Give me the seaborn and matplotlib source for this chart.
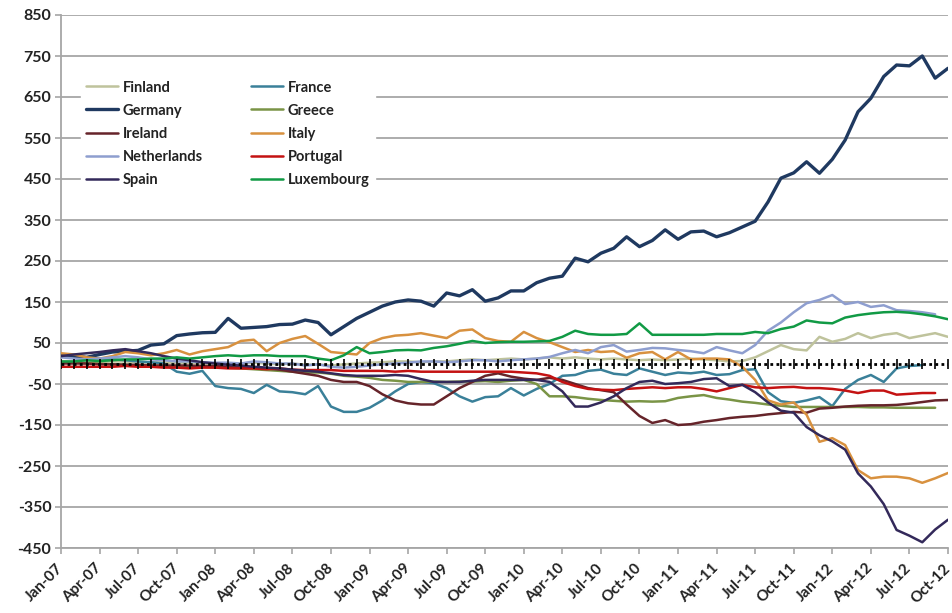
import numpy as np
import pandas as pd
import matplotlib
matplotlib.use("Agg")
import matplotlib.pyplot as plt
import seaborn as sns

nan = np.nan

tick_labels = ["Jan-07", "Apr-07", "Jul-07", "Oct-07", "Jan-08", "Apr-08", "Jul-08", "Oct-08",
               "Jan-09", "Apr-09", "Jul-09", "Oct-09", "Jan-10", "Apr-10", "Jul-10", "Oct-10",
               "Jan-11", "Apr-11", "Jul-11", "Oct-11", "Jan-12", "Apr-12", "Jul-12", "Oct-12"]

countries = ["Finland", "France", "Germany", "Greece", "Ireland", "Italy",
             "Netherlands", "Portugal", "Spain", "Luxembourg"]

finland = [5, 5, 3, 5, 5, 5, 3, 2, 3, 0, 2, 0, 0, -2, 0, 2, 0, -2, 0, -3,
           -2, -5, -2, 0, 2, 3, 5, 5, 3, 5, 5, 8, 10, 8, 10, 12, 10, 12, 15, 12,
           15, 12, 10, 12, 10, 8, 10, 8, 10, 12, 10, 8, 5, 6, 15, 30, 45, 35, 32, 65,
           53, 60, 74, 62, 70, 74, 62, 68, 74, 65]
france = [22, 18, 15, 12, 10, 8, 5, 3, 0, -20, -25, -18, -55, -60, -62, -72, -52, -68, -70, -75,
          -55, -105, -118, -118, -108, -90, -68, -50, -45, -48, -60, -80, -93, -82, -80, -60, -78, -62, -50, -30,
          -28, -18, -15, -25, -28, -12, -20, -28, -22, -24, -20, -28, -26, -16, -14, -70, -92, -96, -90, -82,
          -104, -62, -40, -28, -45, -12, -6, -4, nan, nan]
germany = [20, 18, 15, 22, 28, 30, 32, 45, 48, 68, 72, 75, 76, 110, 86, 88, 90, 95, 96, 106,
           100, 70, 90, 110, 125, 140, 150, 155, 152, 140, 172, 165, 180, 152, 160, 177, 177, 197, 208, 213,
           257, 248, 269, 281, 309, 285, 300, 326, 303, 321, 323, 309, 319, 333, 347, 394, 452, 465, 492, 464,
           498, 545, 614, 647, 700, 728, 726, 750, 696, 720]
greece = [2, 2, 0, 0, -2, -3, -5, -5, -6, -7, -8, -8, -10, -10, -12, -14, -16, -18, -20, -22,
          -22, -25, -30, -32, -35, -40, -42, -45, -45, -44, -45, -44, -44, -43, -45, -42, -40, -50, -80, -80,
          -82, -86, -89, -91, -93, -92, -93, -92, -84, -80, -77, -84, -88, -93, -96, -100, -103, -106, -106, -106,
          -106, -106, -106, -107, -107, -108, -108, -108, -108, nan]
ireland = [0, 0, 0, -2, -2, -3, -3, -5, -5, -5, -5, -6, -6, -8, -8, -10, -12, -15, -20, -25,
           -30, -40, -45, -45, -55, -75, -90, -97, -100, -100, -80, -60, -45, -30, -24, -32, -37, -40, -35, -40,
           -50, -60, -65, -70, -100, -128, -145, -138, -150, -148, -142, -138, -133, -130, -128, -124, -121, -118, -120, -110,
           -108, -105, -103, -102, -102, -101, -98, -94, -90, -89]
italy = [25, 22, 15, 12, 18, 28, 25, 20, 25, 33, 22, 30, 35, 40, 55, 58, 30, 50, 60, 67,
         48, 28, 25, 22, 50, 62, 68, 70, 74, 68, 62, 80, 83, 62, 55, 53, 77, 62, 52, 40,
         28, 33, 28, 30, 14, 25, 28, 10, 28, 10, 12, 12, 10, -8, -40, -90, -100, -95, -125, -191,
         -182, -199, -260, -280, -276, -276, -280, -291, -280, -267]
netherlands = [15, 12, 10, 12, 15, 18, 15, 10, 8, 5, 5, 3, 2, 2, 0, 5, 3, 0, 0, -5,
               -2, -8, -10, -8, -5, -2, 0, 2, 5, 5, 3, 5, 8, 8, 5, 8, 10, 12, 16, 25,
               33, 25, 40, 45, 29, 33, 38, 37, 33, 30, 25, 40, 32, 25, 45, 80, 100, 125, 147, 155,
               167, 145, 150, 138, 142, 130, 128, 125, 120, nan]
portugal = [-8, -8, -8, -8, -8, -6, -8, -8, -10, -10, -12, -10, -10, -12, -12, -12, -14, -12, -15, -16,
            -16, -16, -18, -18, -18, -18, -20, -18, -20, -20, -20, -20, -20, -20, -20, -20, -22, -24, -30, -45,
            -55, -62, -64, -65, -62, -60, -58, -60, -58, -58, -62, -68, -60, -52, -58, -60, -58, -57, -60, -60,
            -62, -66, -72, -66, -66, -76, -74, -72, -72, nan]
spain = [18, 22, 25, 28, 32, 35, 30, 25, 18, 12, 8, 3, 0, -3, -5, -8, -10, -12, -15, -18,
         -20, -24, -28, -30, -30, -30, -28, -30, -38, -45, -45, -45, -42, -40, -40, -40, -40, -40, -45, -68,
         -105, -105, -95, -80, -60, -45, -42, -50, -48, -45, -38, -36, -55, -52, -70, -95, -115, -120, -155, -175,
         -190, -210, -268, -300, -343, -406, -420, -436, -405, -381]
luxembourg = [5, 5, 8, 6, 8, 10, 10, 12, 12, 15, 12, 15, 18, 20, 18, 20, 20, 18, 18, 18,
              12, 8, 20, 40, 25, 28, 32, 33, 32, 38, 42, 48, 55, 50, 52, 53, 53, 54, 55, 65,
              80, 72, 70, 70, 72, 98, 70, 70, 70, 70, 70, 72, 72, 72, 77, 74, 84, 90, 105, 100,
              98, 112, 118, 122, 125, 126, 124, 120, 115, 108]

colors = {
    "Finland": "#BFC39C",
    "France": "#3A8099",
    "Germany": "#1F3960",
    "Greece": "#7A9446",
    "Ireland": "#66242A",
    "Italy": "#D8913F",
    "Netherlands": "#8E9ECF",
    "Portugal": "#C41212",
    "Spain": "#33295A",
    "Luxembourg": "#119A45",
}
widths = {c: 1.8 for c in countries}
widths["Germany"] = 2.4

series = [finland, france, germany, greece, ireland, italy, netherlands, portugal, spain, luxembourg]
n_months = len(germany)
frames = []
for name, vals in zip(countries, series):
    frames.append(pd.DataFrame({"month": np.arange(n_months), "value": vals, "country": name}))
df = pd.concat(frames, ignore_index=True).dropna()

sns.set_style("white")
plt.rcParams["font.family"] = ["Lato", "DejaVu Sans"]

fig = plt.figure(figsize=(9.53, 6.13), dpi=100)
ax = fig.add_axes([61 / 953, 1 - 548 / 613, 887 / 953, 533 / 613])

yticks = np.arange(-450, 851, 100)
ax.set_yticks(yticks)
ax.set_ylim(-450, 850)
ax.set_xlim(0, n_months - 1)
ax.yaxis.grid(True, color="#A6A6A6", lw=1.3)
ax.set_axisbelow(True)

for c in countries:
    sub = df[df["country"] == c]
    sns.lineplot(data=sub, x="month", y="value", ax=ax, color=colors[c],
                 lw=widths[c], label=c, legend=False, zorder=3)

# zero axis with monthly tick marks
ax.axhline(0, color="black", lw=2.0, ls=(0, (1, 1.2)), zorder=4)
ax.plot(np.arange(n_months), np.zeros(n_months), ls="none", marker="|",
        ms=7, mew=1.2, color="black", zorder=4)

ax.set_xticks(np.arange(0, n_months, 3))
ax.set_xticklabels(tick_labels, rotation=45, ha="right", va="center", rotation_mode="anchor",
                   fontsize=11, fontweight="bold", color="#222222")
ax.set_yticklabels([str(v) for v in yticks], fontsize=11.5, fontweight="bold", color="#222222")
ax.tick_params(axis="y", length=4, color="#A6A6A6", width=1.2, pad=3, left=True)
ax.tick_params(axis="x", length=4, color="#A6A6A6", width=1.2, pad=9, bottom=True)
ax.set_xlabel("")
ax.set_ylabel("")

for s in ["top", "right"]:
    ax.spines[s].set_visible(False)
for s in ["left", "bottom"]:
    ax.spines[s].set_color("#A6A6A6")
    ax.spines[s].set_linewidth(1.3)

# legend (row-major order)
handles, labels = ax.get_legend_handles_labels()
hd = dict(zip(labels, handles))
col1 = ["Finland", "Germany", "Ireland", "Netherlands", "Spain"]
col2 = ["France", "Greece", "Italy", "Portugal", "Luxembourg"]
order = col1 + col2
leg = ax.legend([hd[k] for k in order], order, ncol=2, loc="upper left",
                bbox_to_anchor=(0.022, 0.888), borderaxespad=0, frameon=True,
                facecolor="white", edgecolor="white", framealpha=1,
                handlelength=2.2, handletextpad=0.3,
                columnspacing=3.3, labelspacing=0.62,
                prop={"weight": "bold", "size": 10.5})
for t in leg.get_texts():
    t.set_color("#222222")
leg.set_zorder(5)

fig.savefig("out.png", dpi=100, facecolor="white")
